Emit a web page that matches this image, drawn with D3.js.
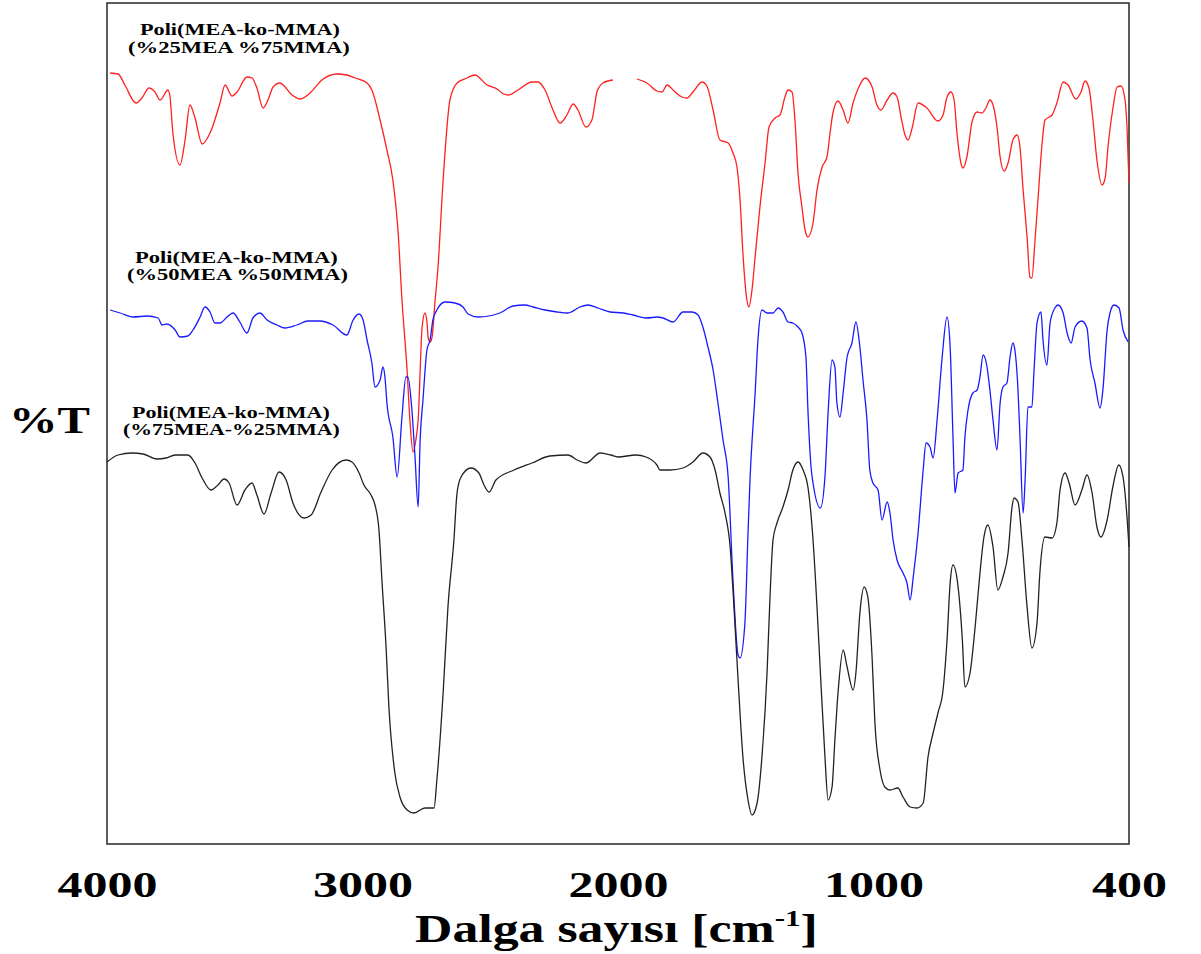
<!DOCTYPE html>
<html>
<head>
<meta charset="utf-8">
<script src="https://cdn.jsdelivr.net/npm/d3@7"></script>
<style>
  body { margin: 0; background: #fff; }
  text { font-family: "Liberation Serif", "DejaVu Serif", serif; font-weight: bold; fill: #000; }
</style>
</head>
<body>
<script>
// wavenumber [cm-1], transmittance (arbitrary offset units)
const redSeries = [
  [3989,771],[3961,770],[3937,759],[3898,741],[3877,746],[3852,756],[3831,752],[3813,744],[3785,754],[3778,747],
  [3768,711],[3743,679],[3725,704],[3708,739],[3690,726],[3665,700],[3637,711],[3602,741],[3584,759],[3560,748],
  [3542,752],[3507,767],[3489,766],[3472,756],[3450,736],[3433,744],[3415,757],[3391,761],[3348,749],[3320,745],
  [3285,751],[3243,764],[3190,770],[3155,769],[3126,766],[3084,761],[3067,754],[3038,724],[3014,694],[2993,664],
  [2975,614],[2961,544],[2943,474],[2933,424],[2922,392],[2912,404],[2904,424],[2890,517],[2880,531],[2873,522],
  [2869,507],[2862,502],[2855,507],[2845,541],[2834,577],[2816,664],[2792,744],[2767,761],[2732,766],[2704,769],
  [2661,759],[2626,755],[2609,751],[2587,749],[2552,754],[2503,762],[2482,762],[2457,754],[2429,734],[2404,721],
  [2380,729],[2358,740],[2341,734],[2313,717],[2292,724],[2274,752],[2253,761],[2218,764],[2175,null],[2133,765],
  [2098,761],[2063,753],[2045,752],[2027,759],[2006,754],[1975,747],[1957,746],[1936,752],[1904,762],[1887,758],
  [1865,734],[1841,704],[1812,701],[1795,691],[1781,677],[1770,644],[1760,591],[1746,544],[1739,537],[1728,554],
  [1717,587],[1700,637],[1682,681],[1668,717],[1647,726],[1629,729],[1612,747],[1601,754],[1587,752],[1576,721],
  [1566,671],[1552,637],[1541,614],[1531,607],[1513,621],[1499,654],[1481,677],[1464,687],[1453,711],[1443,731],
  [1425,743],[1407,734],[1390,721],[1372,741],[1348,759],[1330,766],[1305,757],[1288,739],[1274,734],[1252,744],
  [1231,751],[1217,747],[1203,727],[1189,709],[1178,704],[1164,716],[1143,741],[1112,736],[1073,723],[1055,729],
  [1041,747],[1027,752],[1016,744],[1006,711],[992,681],[985,676],[971,687],[953,722],[935,732],[918,731],
  [904,736],[890,744],[879,739],[865,717],[854,687],[840,673],[826,681],[809,704],[794,709],[784,697],
  [773,654],[759,607],[749,567],[742,566],[731,604],[720,647],[706,701],[696,724],[671,729],[654,741],
  [632,762],[615,759],[587,745],[569,752],[555,763],[541,756],[527,724],[513,684],[495,659],[484,666],
  [474,697],[456,737],[442,757],[428,758],[414,744],[407,717],[400,661]
];

const blueSeries = [
  [3989,534],[3954,531],[3908,527],[3859,528],[3820,526],[3806,519],[3789,520],[3760,514],[3743,507],[3715,508],
  [3697,514],[3672,527],[3655,537],[3637,532],[3620,521],[3602,521],[3577,527],[3556,531],[3532,522],[3507,511],
  [3486,526],[3461,531],[3436,524],[3401,519],[3373,516],[3331,519],[3292,523],[3250,523],[3204,519],[3155,509],
  [3133,524],[3112,530],[3098,524],[3084,504],[3067,481],[3056,457],[3038,464],[3028,477],[3021,467],[3014,441],
  [2993,407],[2978,367],[2961,427],[2947,467],[2940,467],[2926,434],[2915,387],[2904,337],[2897,404],[2887,444],
  [2873,494],[2862,504],[2852,524],[2838,534],[2809,542],[2774,541],[2746,537],[2728,530],[2693,527],[2616,531],
  [2570,538],[2528,539],[2499,537],[2457,534],[2415,532],[2376,531],[2334,537],[2306,539],[2270,536],[2228,532],
  [2182,531],[2147,529],[2098,526],[2063,527],[2041,526],[2006,522],[1971,532],[1939,532],[1918,529],[1901,517],
  [1883,497],[1865,474],[1848,441],[1830,404],[1812,367],[1795,264],[1777,189],[1770,186],[1753,221],[1742,311],
  [1735,364],[1717,451],[1707,504],[1693,534],[1675,531],[1654,531],[1636,536],[1619,532],[1601,522],[1584,521],
  [1566,517],[1552,511],[1538,487],[1531,434],[1520,377],[1513,361],[1487,336],[1471,367],[1460,431],[1446,484],
  [1436,477],[1429,441],[1418,427],[1407,451],[1393,487],[1376,501],[1362,522],[1348,497],[1337,464],[1323,424],
  [1313,374],[1302,361],[1284,354],[1270,324],[1252,342],[1242,331],[1231,304],[1217,284],[1196,271],[1182,261],
  [1171,244],[1160,267],[1143,311],[1125,374],[1115,401],[1101,397],[1090,386],[1076,424],[1059,484],[1041,527],
  [1030,497],[1020,407],[1013,351],[1002,371],[985,374],[978,407],[967,434],[950,451],[935,454],[925,467],
  [914,489],[900,477],[890,454],[879,424],[865,394],[854,441],[844,457],[830,461],[819,487],[809,501],
  [802,494],[791,454],[784,407],[773,331],[766,364],[756,437],[742,437],[735,471],[724,521],[710,532],
  [703,504],[689,479],[678,521],[661,536],[650,539],[632,531],[618,511],[604,501],[590,517],[566,523],
  [548,516],[537,484],[520,461],[502,436],[492,454],[477,514],[467,531],[453,539],[435,536],[421,514],[403,502]
];

const blackSeries = [
  [4000,382],[3961,389],[3912,391],[3873,390],[3824,385],[3792,386],[3760,389],[3715,389],[3690,381],[3665,366],
  [3634,354],[3609,359],[3588,365],[3570,361],[3542,339],[3514,354],[3489,361],[3472,349],[3447,330],[3422,351],
  [3394,372],[3369,364],[3345,341],[3306,326],[3281,329],[3246,352],[3207,374],[3158,384],[3137,382],[3112,371],
  [3095,359],[3070,349],[3056,339],[3042,314],[3031,261],[3017,197],[3007,137],[2986,71],[2968,47],[2943,34],
  [2919,31],[2880,36],[2848,36],[2838,64],[2816,151],[2799,237],[2778,304],[2767,351],[2753,367],[2718,376],
  [2690,371],[2672,359],[2654,352],[2630,364],[2566,374],[2503,381],[2440,388],[2376,389],[2344,384],[2313,381],
  [2263,391],[2225,389],[2200,387],[2137,389],[2101,387],[2063,379],[2052,374],[2017,374],[1971,376],[1936,382],
  [1901,391],[1876,387],[1858,374],[1841,351],[1823,331],[1805,297],[1795,254],[1777,164],[1760,87],[1742,44],
  [1728,29],[1710,41],[1693,87],[1675,171],[1665,244],[1654,304],[1640,321],[1619,337],[1601,354],[1584,374],
  [1566,382],[1548,374],[1531,357],[1513,304],[1499,237],[1487,171],[1471,87],[1460,44],[1446,57],[1436,104],
  [1425,151],[1407,194],[1393,177],[1372,154],[1362,171],[1348,231],[1333,257],[1320,247],[1305,187],[1295,121],
  [1277,74],[1260,57],[1242,54],[1214,56],[1196,47],[1171,37],[1147,36],[1125,41],[1108,87],[1090,111],
  [1073,131],[1055,154],[1041,204],[1030,261],[1020,279],[1002,257],[987,204],[978,157],[960,171],[942,217],
  [925,271],[911,307],[897,319],[879,297],[862,254],[844,267],[826,291],[812,337],[805,346],[791,342],
  [777,304],[759,237],[742,196],[724,221],[714,271],[696,307],[671,306],[654,321],[643,354],[625,371],
  [611,361],[590,339],[566,354],[548,369],[530,351],[513,317],[499,307],[477,324],[457,357],[436,379],
  [421,367],[407,327],[400,297]
];

const xTickLabels = ["4000", "3000", "2000", "1000", "400"];

const seriesLabels = [
  { lines: ["Poli(MEA-ko-MMA)", "(%25MEA %75MMA)"] },
  { lines: ["Poli(MEA-ko-MMA)", "(%50MEA %50MMA)"] },
  { lines: ["Poli(MEA-ko-MMA)", "(%75MEA-%25MMA)"] }
];

const width = 1201, height = 954;
const plot = { left: 107, right: 1129, top: 3, bottom: 844 };

const svg = d3.select("body").append("svg")
  .attr("width", width)
  .attr("height", height);

const x = d3.scaleLinear().domain([4000, 400]).range([plot.left, plot.right]);
const y = d3.scaleLinear().domain([0, 841]).range([plot.bottom, plot.top]);

// stretch a text horizontally so it spans x0..x1 (the original picture is widened)
function stretch(sel, x0, x1, baseline) {
  const w = sel.node().getBBox().width;
  sel.attr("x", 0).attr("y", 0).attr("dy", null).attr("text-anchor", "start")
    .attr("transform", `translate(${x0},${baseline}) scale(${(x1 - x0) / w},1)`);
}

// frame
svg.append("rect")
  .attr("x", plot.left).attr("y", plot.top)
  .attr("width", plot.right - plot.left).attr("height", plot.bottom - plot.top)
  .attr("fill", "none").attr("stroke", "#333").attr("stroke-width", 1.6);

const line = d3.line()
  .defined(d => d[1] != null)
  .x(d => x(d[0]))
  .y(d => y(d[1]))
  .curve(d3.curveMonotoneX);

[
  { data: redSeries, color: "#ff2020" },
  { data: blueSeries, color: "#1a1aff" },
  { data: blackSeries, color: "#222" }
].forEach(s => {
  svg.append("path")
    .datum(s.data)
    .attr("fill", "none")
    .attr("stroke", s.color)
    .attr("stroke-width", 1.3)
    .attr("d", line);
});

// series labels
const labelBoxes = [
  [[140, 340, 35], [128, 350, 53]],
  [[135, 338, 263], [127, 348, 280]],
  [[132, 330, 418], [123, 340, 435]]
];
seriesLabels.forEach((lab, i) => {
  lab.lines.forEach((txt, j) => {
    const t = svg.append("text").attr("font-size", 16).text(txt);
    const b = labelBoxes[i][j];
    stretch(t, b[0], b[1], b[2]);
  });
});

// x tick labels, evenly spaced as in the picture
const xLabelScale = d3.scalePoint().domain(xTickLabels).range([plot.left, plot.right]);
const xAxis = svg.append("g")
  .attr("transform", `translate(0,${plot.bottom})`)
  .call(d3.axisBottom(xLabelScale).tickSize(0).tickPadding(0));
xAxis.select(".domain").remove();
xAxis.selectAll("text").each(function(d) {
  const t = d3.select(this)
    .attr("font-size", 36)
    .attr("font-family", "Liberation Serif, serif")
    .attr("font-weight", "bold")
    .attr("fill", "#000");
  const w = d === "400" ? 75 : 100;
  // tick groups are already translated to the label position
  stretch(t, -w / 2, w / 2, 53);
});

// y axis title
const yTitle = svg.append("text").attr("font-size", 38).text("%T");
stretch(yTitle, 9, 90, 433);

// x axis title
const xTitle = svg.append("text").attr("font-size", 40);
xTitle.append("tspan").text("Dalga sayısı [cm");
xTitle.append("tspan").attr("font-size", 24).attr("dy", -16).text("-1");
xTitle.append("tspan").attr("dy", 16).text("]");
stretch(xTitle, 415, 818, 942);
</script>
</body>
</html>
